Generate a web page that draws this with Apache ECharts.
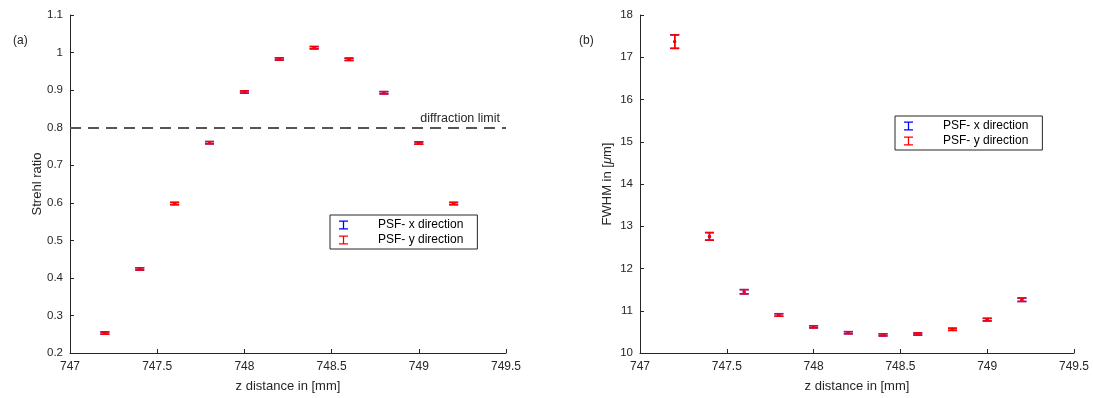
<!DOCTYPE html>
<html><head><meta charset="utf-8">
<script src="https://cdn.jsdelivr.net/npm/echarts@6/dist/echarts.min.js"></script>
<style>html,body{margin:0;padding:0;background:#fff}#c{width:1093px;height:398px}</style>
</head><body><div id="c"></div>
<script>
const zPos = [747.2, 747.4, 747.6, 747.8, 748.0, 748.2, 748.4, 748.6, 748.8, 749.0, 749.2];
const strehlX = [0.253, 0.424, 0.598, 0.760, 0.895, 0.983, 1.013, 0.982, 0.893, 0.759, 0.598];
const strehlY = [0.253, 0.424, 0.598, 0.760, 0.895, 0.983, 1.013, 0.982, 0.893, 0.759, 0.598];
const strehlErr = [0.003, 0.003, 0.003, 0.003, 0.003, 0.003, 0.003, 0.003, 0.003, 0.003, 0.003];
const fwhmX = [17.37, 12.76, 11.45, 10.90, 10.62, 10.48, 10.43, 10.45, 10.56, 10.79, 11.26];
const fwhmY = [17.37, 12.76, 11.45, 10.90, 10.62, 10.48, 10.43, 10.45, 10.56, 10.79, 11.26];
const fwhmErr = [0.16, 0.09, 0.05, 0.03, 0.025, 0.025, 0.025, 0.025, 0.025, 0.03, 0.04];
const diffractionLimit = 0.8;
const xTicks = {min: 747, max: 749.5, interval: 0.5};

const FONT = 'Liberation Sans, Arial, sans-serif';
const AX = '#262626';
const icon = 'path://M0,0H10V1.4H5.7V8.6H10V10H0V8.6H4.3V1.4H0Z';

function errRender(color, cap) {
  return function (params, api) {
    const x = api.value(0), y = api.value(1), e = api.value(2);
    const top = api.coord([x, y + e]);
    const bot = api.coord([x, y - e]);
    const mid = api.coord([x, y]);
    const st = {stroke: color, lineWidth: 1.5};
    return {type: 'group', children: [
      {type: 'line', shape: {x1: top[0], y1: top[1], x2: bot[0], y2: bot[1]}, style: st},
      {type: 'line', shape: {x1: top[0] - cap, y1: top[1], x2: top[0] + cap, y2: top[1]}, style: st},
      {type: 'line', shape: {x1: bot[0] - cap, y1: bot[1], x2: bot[0] + cap, y2: bot[1]}, style: st},
      {type: 'circle', shape: {cx: mid[0], cy: mid[1], r: 1.6}, style: {fill: color}}
    ]};
  };
}
function mk(name, xi, yi, vals, errs, color) {
  return {
    name: name, type: 'custom', xAxisIndex: xi, yAxisIndex: yi,
    itemStyle: {color: color},
    renderItem: errRender(color, 4.5),
    encode: {x: 0, y: 1},
    data: zPos.map((z, i) => [z, vals[i], errs[i]]),
    z: color === 'red' ? 3 : 2
  };
}
function xAxis(gi) {
  return {
    type: 'value', gridIndex: gi, min: xTicks.min, max: xTicks.max, interval: xTicks.interval,
    name: 'z distance in [mm]', nameLocation: 'middle', nameGap: 27, nameMoveOverlap: false,
    nameTextStyle: {color: AX, fontFamily: FONT, fontSize: 13},
    axisLine: {lineStyle: {color: AX, width: 1}},
    axisTick: {inside: true, length: 4, lineStyle: {color: AX}},
    axisLabel: {color: AX, fontFamily: FONT, fontSize: 12, margin: 8},
    splitLine: {show: false}
  };
}
function yAxis(gi, min, max, interval, name) {
  return {
    type: 'value', gridIndex: gi, min: min, max: max, interval: interval,
    name: name, nameLocation: 'middle', nameGap: 26, nameMoveOverlap: false,
    nameTextStyle: {color: AX, fontFamily: FONT, fontSize: 13, rich: {i: {fontStyle: 'italic', fontFamily: FONT, fontSize: 13, color: AX}}},
    axisLine: {show: true, lineStyle: {color: AX, width: 1}},
    axisTick: {inside: true, length: 4, lineStyle: {color: AX}},
    axisLabel: {color: AX, fontFamily: FONT, fontSize: 11.5, margin: 7,
      formatter: v => String(parseFloat(v.toFixed(2)))},
    splitLine: {show: false}
  };
}
const legendBase = {
  orient: 'vertical', borderColor: AX, borderWidth: 1, backgroundColor: '#fff',
  padding: [4, 14, 3, 9], itemGap: 3, itemWidth: 9, itemHeight: 13,
  textStyle: {color: '#000', fontFamily: FONT, fontSize: 12, padding: [0, 0, 0, 25]},
  data: [{name: 'PSF- x direction', icon: icon}, {name: 'PSF- y direction', icon: icon}]
};

const chart = echarts.init(document.getElementById('c'), null, {renderer: 'canvas'});
chart.setOption({
  animation: false,
  title: [
    {text: '(a)', left: 8, top: 30, textStyle: {fontFamily: FONT, fontSize: 12, fontWeight: 'normal', color: AX}},
    {text: '(b)', left: 574, top: 30, textStyle: {fontFamily: FONT, fontSize: 12, fontWeight: 'normal', color: AX}}
  ],
  grid: [
    {left: 70, top: 15, width: 436, height: 338},
    {left: 640, top: 15, width: 434, height: 338}
  ],
  xAxis: [xAxis(0), xAxis(1)],
  yAxis: [yAxis(0, 0.2, 1.1, 0.1, 'Strehl ratio'), yAxis(1, 10, 18, 1, 'FWHM in [{i|μ}m]')],
  legend: [
    Object.assign({}, legendBase, {left: 330, top: 215}),
    Object.assign({}, legendBase, {left: 895, top: 116})
  ],
  series: [
    {
      type: 'line', xAxisIndex: 0, yAxisIndex: 0, data: [], silent: true,
      markLine: {
        symbol: 'none', silent: true, animation: false,
        lineStyle: {color: '#555', width: 2.2, type: [11, 7]},
        label: {show: true, position: 'insideEndTop', formatter: 'diffraction limit',
          color: AX, fontFamily: FONT, fontSize: 12.5, distance: [6, 3]},
        data: [{yAxis: diffractionLimit}]
      }
    },
    mk('PSF- x direction', 0, 0, strehlX, strehlErr, 'blue'),
    mk('PSF- y direction', 0, 0, strehlY, strehlErr, 'red'),
    mk('PSF- x direction', 1, 1, fwhmX, fwhmErr, 'blue'),
    mk('PSF- y direction', 1, 1, fwhmY, fwhmErr, 'red')
  ]
});
</script></body></html>
